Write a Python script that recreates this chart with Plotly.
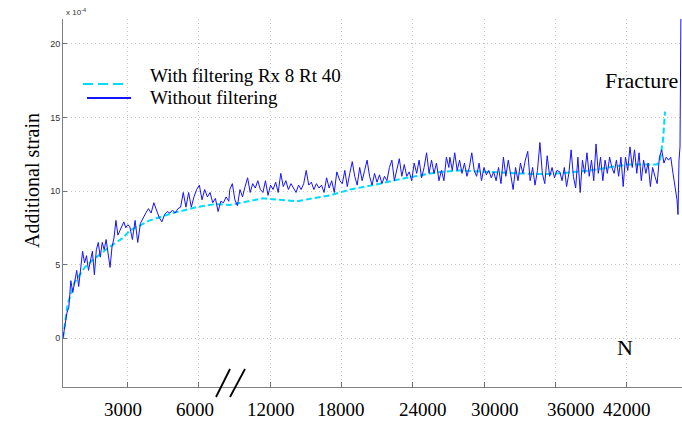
import numpy as np
import plotly.graph_objects as go

# ---------------- data (strain in units of 1e-4) ----------------
# broken x axis: N <= 6000 drawn at N/3000, beyond the break at 1 + N/6000
tick_N = [3000, 6000, 12000, 18000, 24000, 30000, 36000, 42000]
tick_labels = ["3000", "6000", "12000", "18000", "24000", "30000", "36000", "42000"]
y_ticks = [0, 5, 10, 15, 20]

# unfiltered signal, sampled evenly along the drawn axis inside each segment
seg_N = [(290, 3013), (3097, 8526), (8610, 17611), (17868, 27036), (27120, 36126), (36366, 45888)]
seg1 = [0.0, 1.0, 1.7, 2.1, 3.9, 3.1, 3.9, 4.6, 3.5, 4.8, 5.9, 5.1, 5.6, 4.6, 5.3, 5.9, 4.3,
        6.0, 6.5, 5.5, 6.5, 6.0, 6.7, 5.9, 4.8, 6.2, 6.8, 8.0, 7.0, 7.3, 7.6, 7.9, 7.5, 7.7]
seg2 = [7.6, 6.7, 8.0, 6.5, 7.8, 8.2, 8.5, 8.8, 8.5, 9.2, 8.7, 8.2, 7.9, 8.4, 8.6, 8.5, 8.7,
        8.5, 8.8, 8.9, 9.9, 8.9, 9.9, 8.9, 9.6, 10.1, 10.4, 9.4, 10.1, 9.6, 9.9, 9.2, 9.5, 8.6,
        9.3, 9.2, 9.6, 9.3]
seg3 = [10.1, 10.5, 9.4, 9.0, 10.1, 9.6, 10.3, 10.9, 9.9, 10.5, 10.2, 10.7, 10.1, 9.9, 10.7,
        9.7, 10.4, 10.1, 10.6, 9.9, 11.2, 10.3, 10.7, 10.1, 10.5, 10.2, 9.9, 10.4, 10.1, 10.5,
        11.4, 10.4, 10.6, 10.1, 10.5, 10.2, 10.4, 9.9, 10.9, 10.2, 10.7, 9.9, 11.3]
seg4 = [10.7, 10.5, 11.4, 10.3, 11.2, 12.0, 11.0, 10.4, 11.6, 10.7, 11.4, 12.1, 11.0, 10.4,
        11.2, 10.6, 11.1, 10.5, 11.0, 10.7, 11.6, 12.1, 10.7, 11.4, 12.2, 11.0, 11.8, 11.0, 11.3,
        10.7, 11.9, 11.2, 12.1, 10.9, 11.6, 12.6, 11.2, 12.1, 11.2, 11.9, 10.7, 11.4, 10.7, 12.3,
        11.6]
seg5 = [12.3, 11.4, 12.6, 11.4, 12.1, 11.2, 11.9, 11.0, 11.6, 12.6, 11.4, 11.0, 11.9, 10.7,
        11.6, 11.1, 11.4, 10.9, 11.3, 10.7, 11.6, 10.5, 12.3, 11.0, 12.1, 11.2, 10.1, 11.6, 10.7,
        11.9, 11.2, 12.1, 12.7, 10.7, 11.6, 10.4, 11.4, 13.3, 11.2, 10.5, 12.4, 11.0, 11.6, 10.9,
        11.4]
seg6 = [11.3, 10.7, 11.6, 10.3, 11.2, 12.8, 11.0, 10.2, 12.3, 9.9, 12.1, 11.2, 12.6, 11.0,
        12.1, 10.7, 13.2, 11.2, 12.3, 10.7, 12.1, 11.2, 12.3, 11.6, 11.2, 12.1, 11.0, 12.3, 10.3,
        12.3, 11.4, 13.0, 11.6, 12.8, 11.2, 12.6, 10.7, 12.1, 11.2, 11.9, 10.3, 11.6, 11.0, 10.5,
        12.3, 12.8, 11.9, 12.3, 12.1, 12.3, 11.2]
tail_N = [46056, 46224, 46308, 46392, 46476, 46560]
tail_strain = [10.3, 9.4, 8.4, 12.1, 13.0, 23.0]

# filtered signal (Rx 8, Rt 40)
filt_N = [290, 488, 783, 1203, 1540, 2171, 2802, 3097, 3938, 4906, 5915, 7346, 8610, 9450,
          11388, 12822, 14252, 15598, 17029, 18711, 20645, 23507, 26285, 27966, 29904, 32766,
          34700, 36366, 38906, 42017, 44543, 44796, 45048, 45216]
filt_strain = [0.0, 2.3, 3.8, 4.8, 5.3, 6.1, 6.8, 7.3, 8.0, 8.5, 8.9, 9.1, 9.05, 9.2, 9.5,
               9.4, 9.3, 9.5, 9.7, 10.1, 10.4, 10.9, 11.3, 11.4, 11.3, 11.2, 11.15, 11.2, 11.4,
               11.8, 11.8, 12.1, 13.5, 15.4]


def axis_pos(n):
    n = np.asarray(n, dtype=float)
    return np.where(n <= 6000, n / 3000.0, 1.0 + n / 6000.0)


raw_x, raw_y = [], []
for (n0, n1), vals in zip(seg_N, [seg1, seg2, seg3, seg4, seg5, seg6]):
    raw_x.extend(np.linspace(axis_pos(n0), axis_pos(n1), len(vals)).tolist())
    raw_y.extend(vals)
raw_x.extend(axis_pos(tail_N).tolist())
raw_y.extend(tail_strain)

SERIF = "Liberation Serif, Times New Roman, serif"
SANS = "Liberation Sans, Arial, sans-serif"
CYAN = "rgb(0,220,255)"
BLUE = "rgb(20,20,255)"
GRID = "#c4c4c4"

fig = go.Figure()
fig.add_trace(go.Scatter(x=axis_pos(filt_N), y=filt_strain, mode="lines",
                         line=dict(color=CYAN, width=2, dash="6px,3px"),
                         name="With filtering Rx 8 Rt 40", showlegend=False))
fig.add_trace(go.Scatter(x=raw_x, y=raw_y, mode="lines",
                         line=dict(color=BLUE, width=1),
                         name="Without filtering", showlegend=False))

fig.update_layout(
    width=682, height=422,
    margin=dict(l=63, r=0, t=19, b=35),
    paper_bgcolor="white", plot_bgcolor="white",
    xaxis=dict(range=[0.097, 8.774], tickvals=axis_pos(tick_N), showticklabels=False,
               ticks="inside", ticklen=5, tickcolor="#707070",
               showgrid=True, gridcolor=GRID, griddash="1px,3px", gridwidth=1,
               showline=True, linecolor="#808080", linewidth=1, zeroline=False),
    yaxis=dict(range=[-3.333, 21.7], tickvals=y_ticks, ticks="inside", ticklen=4,
               tickcolor="#707070", tickfont=dict(family=SANS, size=9, color="#333"),
               showgrid=True, gridcolor=GRID, griddash="1px,3px", gridwidth=1,
               showline=True, linecolor="#808080", linewidth=1, zeroline=False),
)

# x tick labels (placed as in the original figure)
label_pos = [0.934, 1.944, 3.011, 3.999, 5.149, 6.151, 7.217, 7.998]
for p, t in zip(label_pos, tick_labels):
    fig.add_annotation(x=p, y=-0.0598, xref="x", yref="paper", text=t, showarrow=False,
                       xanchor="center", yanchor="middle",
                       font=dict(family=SERIF, size=19, color="black"))

fig.add_annotation(x=7.975, y=0.068, xref="x", yref="paper", text="N", showarrow=False,
                   font=dict(family=SERIF, size=22, color="black"))
fig.add_annotation(x=7.668, y=0.834, xref="x", yref="paper", text="Fracture", showarrow=False,
                   xanchor="left", yanchor="middle",
                   font=dict(family=SERIF, size=22, color="black"))
fig.add_annotation(x=(19 - 63) / 619, y=(387 - 181) / 368, xref="paper", yref="paper",
                   text="Additional strain", textangle=-90, showarrow=False,
                   font=dict(family=SERIF, size=20, color="black"))
fig.add_annotation(x=0.0016, y=1.019, xref="paper", yref="paper", text="x 10<sup>-4</sup>",
                   showarrow=False, xanchor="left", yanchor="middle",
                   font=dict(family=SANS, size=8, color="#333"))

# legend (drawn manually to match the original layout)
fig.add_shape(type="line", xref="paper", yref="paper", x0=(83 - 63) / 619, x1=(127 - 63) / 619,
              y0=(387 - 84) / 368, y1=(387 - 84) / 368,
              line=dict(color=CYAN, width=2, dash="10px,5px"))
fig.add_shape(type="line", xref="paper", yref="paper", x0=(87 - 63) / 619, x1=(131 - 63) / 619,
              y0=(387 - 98) / 368, y1=(387 - 98) / 368,
              line=dict(color=BLUE, width=2))
fig.add_annotation(x=(148 - 63) / 619, y=(387 - 76) / 368, xref="paper", yref="paper",
                   text="With filtering Rx 8 Rt 40", showarrow=False, xanchor="left",
                   yanchor="middle", font=dict(family=SERIF, size=19, color="black"))
fig.add_annotation(x=(148 - 63) / 619, y=(387 - 97) / 368, xref="paper", yref="paper",
                   text="Without filtering", showarrow=False, xanchor="left",
                   yanchor="middle", font=dict(family=SERIF, size=19, color="black"))

# axis-break marks
for xa, xb in [(216, 230), (230, 245)]:
    fig.add_shape(type="line", xref="paper", yref="paper",
                  x0=(xa - 63) / 619, x1=(xb - 63) / 619,
                  y0=(387 - 397) / 368, y1=(387 - 369) / 368,
                  line=dict(color="black", width=1.8))

fig.write_html("out.html")
